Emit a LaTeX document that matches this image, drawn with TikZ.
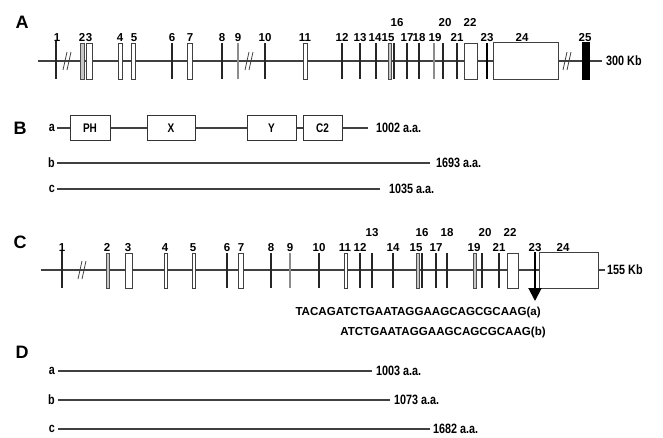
\documentclass[tikz,border=0pt]{standalone}
\usepackage{fontspec}
\setmainfont{Liberation Sans}
\usetikzlibrary{arrows.meta}
\newcommand\nar[2][0.8]{\scalebox{#1}[1]{#2}}
\begin{document}
\begin{tikzpicture}[x=1pt,y=-1pt,
  gl/.style={draw=black!75, line width=1.2pt},
  ex/.style={draw=black!75, fill=white, line width=0.9pt},
  gx/.style={draw=black!70, fill=black!22, line width=0.9pt},
  bx/.style={draw=black, fill=black, line width=0.9pt},
  th/.style={line width=2pt, draw=black!85},
  thg/.style={line width=2pt, draw=black!45},
  thk/.style={line width=2.8pt, draw=black},
  lab/.style={font=\fontsize{11.5}{11.5}\selectfont\bfseries, inner sep=0, anchor=base},
  panel/.style={font=\fontsize{18}{18}\selectfont\bfseries, inner sep=0},
  aa/.style={font=\fontsize{13.5}{13.5}\selectfont\bfseries, inner sep=0, anchor=west},
  seq/.style={font=\fontsize{11.6}{11.6}\selectfont\bfseries, inner sep=0, anchor=east},
  dom/.style={draw=black!80, fill=white, line width=0.9pt, minimum height=25pt, inner sep=0, font=\fontsize{12.5}{12.5}\selectfont\bfseries},
  brk/.style={draw=black!75, line width=0.8pt}
]
\useasboundingbox (0,0) rectangle (663,437);
% ================= A =================
\node[panel] (pA) at (22,22) {A};
\coordinate (a0) at (38,61);
\coordinate (a1) at (602,61);
\draw[gl] (a0) -- (a1);
\foreach \x in {68,250,568}{
  \draw[brk] (\x-5,70) -- (\x-1,52);
  \draw[brk] (\x-1,70) -- (\x+3,52);
}
% exons
\draw[th] (56,40) -- (56,79);
\draw[gx] (80,43) rectangle (84,79);
\draw[ex] (86,43) rectangle (92,79);
\draw[ex] (118,43) rectangle (122,79);
\draw[ex] (131,43) rectangle (135,79);
\draw[th] (172,43) -- (172,79);
\draw[ex] (187,43) rectangle (192,79);
\draw[th] (222,43) -- (222,79);
\draw[thg] (238,43) -- (238,79);
\draw[th] (265,43) -- (265,79);
\draw[ex] (303,43) rectangle (307,79);
\draw[th] (342,43) -- (342,79);
\draw[th] (360,43) -- (360,79);
\draw[th] (376,43) -- (376,79);
\draw[gx] (388.5,43) rectangle (391.5,79);
\draw[th] (393.5,43) -- (393.5,79);
\draw[th] (407,43) -- (407,79);
\draw[th] (419,43) -- (419,79);
\draw[thg] (434,43) -- (434,79);
\draw[th] (443,43) -- (443,79);
\draw[th] (457,43) -- (457,79);
\draw[ex] (464,43) rectangle (477,79);
\draw[thk] (487,43) -- (487,79);
\draw[ex] (493,42) rectangle (558,79);
\draw[bx] (582,42) rectangle (589,79);
% labels
\foreach \x/\t [count=\i] in {57/1,82/2,89/3,120/4,134/5,172/6,190/7,222/8,238/9,265/10,305/11,342/12,360/13,375/14,388/15,407/17,419/18,435/19,457/21,487/23,522/24,585/25}{
  \node[lab] (la\i) at (\x,41) {\t};
}
\node[lab] (la16) at (397,26) {16};
\node[lab] (la20) at (445,26) {20};
\node[lab] (la22) at (470,26) {22};
\node[aa] (kbA) at (606,61) {\nar{300 Kb}};
% ================= B =================
\node[panel] (pB) at (20,128) {B};
\node[aa, anchor=east] (ba) at (55,128) {\nar{a}};
\coordinate (bs) at (57,128);
\coordinate (be) at (368,128);
\draw[gl] (bs) -- (be);
\node[dom, minimum width=40pt] (PH) at (90,128) {\nar{PH}};
\node[dom, minimum width=48pt] (X) at (171,128) {\nar{X}};
\node[dom, minimum width=49pt] (Y) at (271.5,128) {\nar{Y}};
\node[dom, minimum width=39pt] (C2) at (322.5,128) {\nar{C2}};
\node[aa] (b1002) at (376,128) {\nar{1002 a.a.}};
\node[aa, anchor=east] (bb) at (55,163) {\nar{b}};
\coordinate (bbs) at (57,163);
\coordinate (bbe) at (430,163);
\draw[gl] (bbs) -- (bbe);
\node[aa] (b1693) at (436,163) {\nar{1693 a.a.}};
\node[aa, anchor=east] (bc) at (55,189) {\nar{c}};
\coordinate (bcs) at (57,189);
\coordinate (bce) at (380,189);
\draw[gl] (bcs) -- (bce);
\node[aa] (b1035) at (389,189) {\nar{1035 a.a.}};
% ================= C =================
\node[panel] (pC) at (20,242) {C};
\coordinate (c0) at (41,270);
\coordinate (c1) at (605,270);
\draw[gl] (c0) -- (c1);
\draw[brk] (78,279) -- (82,261);
\draw[brk] (82,279) -- (86,261);
\draw[th] (62,250) -- (62,288);
\draw[gx] (106,253) rectangle (109,288);
\draw[ex] (125,253) rectangle (132,288);
\draw[ex] (164,253) rectangle (167,288);
\draw[ex] (192,253) rectangle (195,288);
\draw[th] (227,253) -- (227,288);
\draw[ex] (238,253) rectangle (243,288);
\draw[th] (271,253) -- (271,288);
\draw[thg] (290,253) -- (290,288);
\draw[th] (319,253) -- (319,288);
\draw[ex] (344,253) rectangle (347,288);
\draw[th] (360,253) -- (360,288);
\draw[th] (372,253) -- (372,288);
\draw[th] (393,253) -- (393,288);
\draw[gx] (416,253) rectangle (419,288);
\draw[th] (422,253) -- (422,288);
\draw[th] (436,253) -- (436,288);
\draw[th] (447,253) -- (447,288);
\draw[gx] (473,253) rectangle (476,288);
\draw[th] (482,253) -- (482,288);
\draw[th] (499,253) -- (499,288);
\draw[ex] (507,253) rectangle (518,288);
\draw[ex] (539,252) rectangle (598,288);
\foreach \x/\t [count=\i] in {62/1,107/2,128/3,165/4,193/5,227/6,241/7,271/8,290/9,319/10,345/11,360/12,393/14,416/15,436/17,474/19,499/21,535/23,563/24}{
  \node[lab] (lc\i) at (\x,251) {\t};
}
\node[lab] (lc13) at (372,236) {13};
\node[lab] (lc16) at (422,236) {16};
\node[lab] (lc18) at (447,236) {18};
\node[lab] (lc20) at (485,236) {20};
\node[lab] (lc22) at (510,236) {22};
\node[aa] (kbC) at (607,270) {\nar{155 Kb}};
\coordinate (arS) at (535,252);
\coordinate (arE) at (535,301);
\draw[line width=2pt, -{Triangle[width=13pt,length=13pt]}] (arS) -- (arE);
\node[seq] (sa) at (541,312) {TACAGATCTGAATAGGAAGCAGCGCAAG(a)};
\node[seq] (sb) at (546,332) {ATCTGAATAGGAAGCAGCGCAAG(b)};
% ================= D =================
\node[panel] (pD) at (22,352) {D};
\node[aa, anchor=east] (da) at (55,371) {\nar{a}};
\coordinate (das) at (58,371);
\coordinate (dae) at (372,371);
\draw[gl] (das) -- (dae);
\node[aa] (d1003) at (376,371) {\nar{1003 a.a.}};
\node[aa, anchor=east] (db) at (55,400) {\nar{b}};
\coordinate (dbs) at (58,400);
\coordinate (dbe) at (390,400);
\draw[gl] (dbs) -- (dbe);
\node[aa] (d1073) at (394,400) {\nar{1073 a.a.}};
\node[aa, anchor=east] (dc) at (55,429) {\nar{c}};
\coordinate (dcs) at (58,429);
\coordinate (dce) at (430,429);
\draw[gl] (dcs) -- (dce);
\node[aa] (d1682) at (433,429) {\nar{1682 a.a.}};
\end{tikzpicture}
\end{document}
